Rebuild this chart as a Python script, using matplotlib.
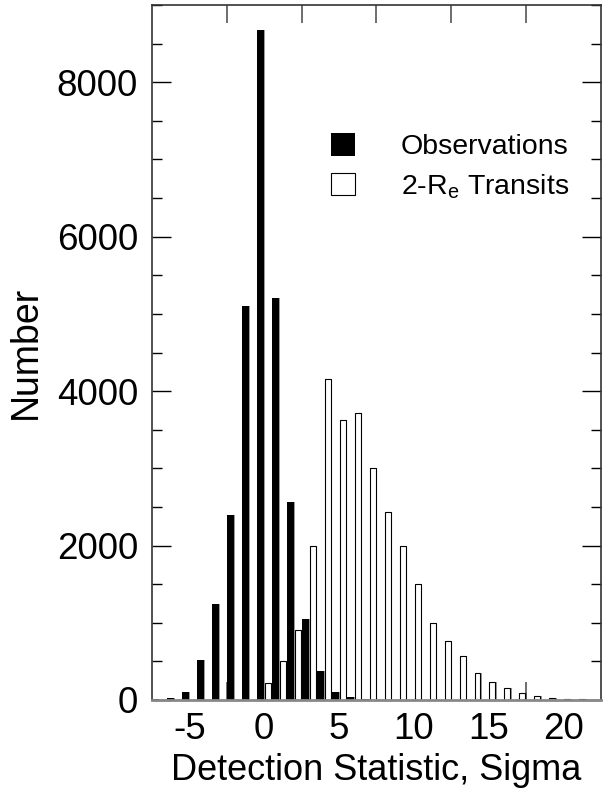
import numpy as np
import matplotlib.pyplot as plt
from matplotlib.ticker import MultipleLocator, FixedLocator

plt.rcParams['font.family'] = ['Liberation Sans', 'DejaVu Sans']
plt.rcParams['axes.unicode_minus'] = False
plt.rcParams['mathtext.fontset'] = 'custom'
plt.rcParams['mathtext.rm'] = 'Liberation Sans'

# histogram bins (sigma) and counts
sigma = np.arange(-7, 22)
observations = [15, 30, 110, 520, 1240, 2400, 5100, 8680, 5200, 2560, 1050, 370, 100, 35, 10,
                0, 0, 0, 0, 0, 0, 0, 0, 0, 0, 0, 0, 0, 0]
transits = [0, 0, 0, 0, 0, 0, 0, 215, 510, 910, 1990, 4160, 3620, 3720, 3010, 2440, 1990,
            1500, 1000, 770, 565, 345, 235, 160, 86, 48, 22, 12, 10]

x_labels = [-5, 0, 5, 10, 15, 20]

fig = plt.figure(figsize=(6.06, 7.95), dpi=100)
ax = fig.add_axes([0.2508, 0.1195, 0.7409, 0.8742])

w = 0.46
shadow = '#9a9a9a'
# grey "shadow" behind each bar, as in the original
ax.bar(sigma - 0.25 + 0.07, observations, width=w, color=shadow, linewidth=0, zorder=1)
ax.bar(sigma + 0.25 + 0.07, transits, width=w, color=shadow, linewidth=0, zorder=1)
obs = ax.bar(sigma - 0.25, observations, width=w, color='black', linewidth=0, zorder=2)
tr = ax.bar(sigma + 0.25, transits, width=w - 0.06, color='white', edgecolor='black',
            linewidth=0.8, zorder=2)

ax.set_xlim(-7.5, 22.5)
ax.set_ylim(0, 9000)

ax.xaxis.set_major_locator(FixedLocator(x_labels))
ax.xaxis.set_minor_locator(FixedLocator(np.arange(-2.5, 20, 5)))
ax.yaxis.set_major_locator(MultipleLocator(2000))
ax.yaxis.set_minor_locator(MultipleLocator(500))

ax.tick_params(axis='x', which='major', length=0, labelsize=26.5, pad=9)
ax.tick_params(axis='x', which='minor', direction='in', length=13, width=1.2,
               color='#555555', top=True, bottom=True)
ax.tick_params(axis='y', which='major', direction='in', length=14, width=1,
               labelsize=26.5, pad=10, left=True, right=True)
ax.tick_params(axis='y', which='minor', direction='in', length=7, width=1,
               left=True, right=True)

for s in ax.spines.values():
    s.set_linewidth(1.2)
    s.set_color('#333333')
ax.spines['bottom'].set_color('#888888')
ax.spines['bottom'].set_linewidth(2)

ax.set_xlabel('Detection Statistic, Sigma', fontsize=26, labelpad=4)
ax.set_ylabel('Number', fontsize=27, labelpad=9)

ax.legend([obs, tr], ['Observations', r'2-R$_{\mathrm{e}}$ Transits'],
          loc='upper left', bbox_to_anchor=(0.367, 0.836), frameon=False,
          fontsize=20.5, handlelength=0.85, handleheight=0.85,
          handletextpad=1.6, labelspacing=0.4, borderpad=0)

plt.savefig('out.png', dpi=100)
